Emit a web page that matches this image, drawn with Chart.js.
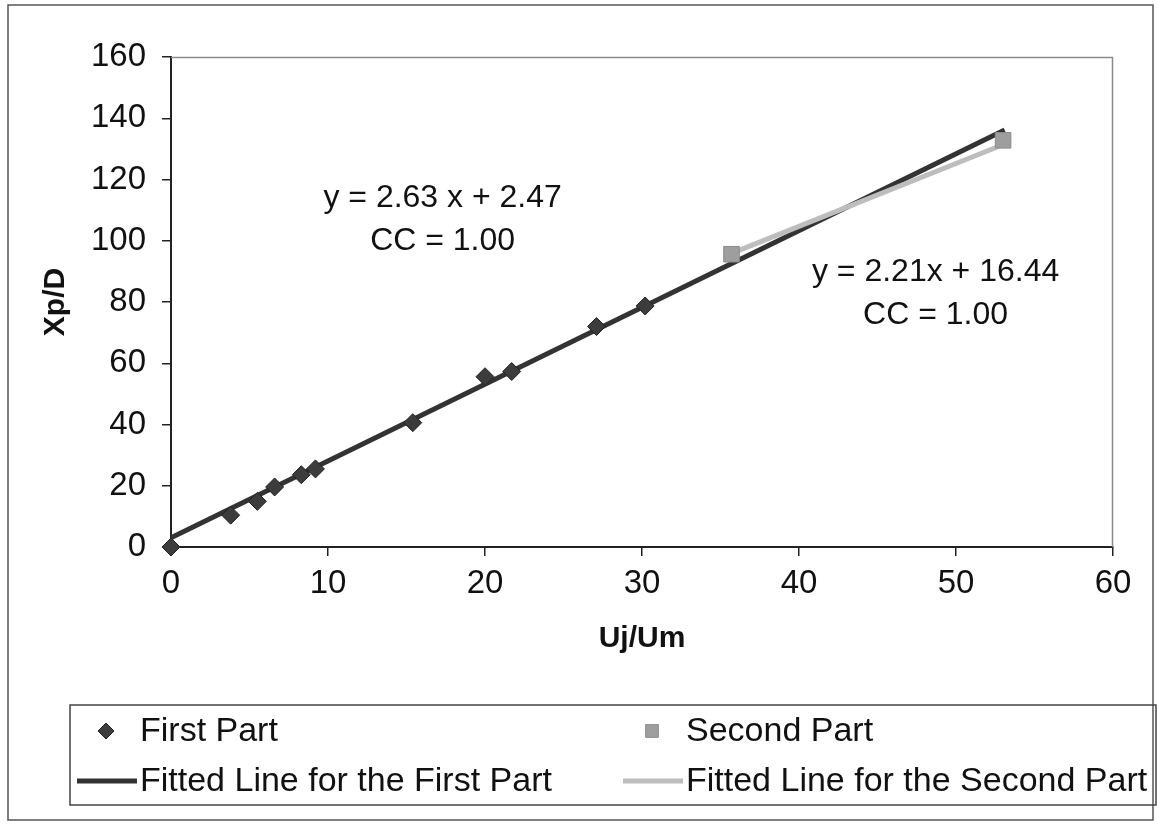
<!DOCTYPE html>
<html>
<head>
<meta charset="utf-8">
<script src="https://cdn.jsdelivr.net/npm/chart.js@4/dist/chart.umd.min.js"></script>
<style>
  html, body { margin: 0; padding: 0; background: #ffffff; }
  #wrap { width: 1157px; height: 826px; }
</style>
</head>
<body>
<div id="wrap"><canvas id="c" width="1157" height="826"></canvas></div>
<script>
// Measured points, first part of the trajectory
const firstX = [0, 3.8, 5.5, 6.6, 8.3, 9.2, 15.4, 20.0, 21.7, 27.1, 30.2];
const firstY = [0, 10.4, 14.9, 19.6, 23.6, 25.5, 40.6, 55.6, 57.3, 72.0, 78.7];

// Measured points, second part
const secondX = [35.7, 53.0];
const secondY = [95.6, 132.8];

// Fitted straight lines (end points)
const fit1X = [0, 53.1];
const fit1Y = [3.0, 136.2];
const fit2X = [35.7, 53.1];
const fit2Y = [95.9, 131.6];

const seriesNames = [
  'First Part',
  'Second Part',
  'Fitted Line for the First Part',
  'Fitted Line for the Second Part'
];

const equationText = [
  ['y = 2.63 x + 2.47', 'CC = 1.00'],
  ['y = 2.21x + 16.44', 'CC = 1.00']
];

const xTicks = [0, 10, 20, 30, 40, 50, 60];
const yTicks = [0, 20, 40, 60, 80, 100, 120, 140, 160];

const xTitle = 'Uj/Um';
const yTitle = 'Xp/D';

const FONT = "'Liberation Sans', Arial, sans-serif";

const pairs = (xs, ys) => xs.map((x, i) => ({ x: x, y: ys[i] }));

// Where each equation block sits, in axis units (centre of its first line)
const equationAnchors = [
  { x: 17.3, y: 113.8 },
  { x: 48.7, y: 89.7 }
];

const framePlugin = {
  id: 'frame',
  afterDatasetsDraw(chart) {
    const ctx = chart.ctx;
    const a = chart.chartArea;
    const xs = chart.scales.x, ys = chart.scales.y;
    ctx.save();

    // plot area outline (top and right edges)
    ctx.strokeStyle = '#8a8a8a';
    ctx.lineWidth = 1.5;
    ctx.beginPath();
    ctx.moveTo(a.left, a.top + 0.5);
    ctx.lineTo(a.right - 0.5, a.top + 0.5);
    ctx.lineTo(a.right - 0.5, a.bottom);
    ctx.stroke();

    // regression equations
    ctx.fillStyle = '#111';
    ctx.font = '32px ' + FONT;
    ctx.textAlign = 'center';
    ctx.textBaseline = 'middle';
    equationText.forEach((lines, k) => {
      const px = xs.getPixelForValue(equationAnchors[k].x);
      const py = ys.getPixelForValue(equationAnchors[k].y);
      lines.forEach((t, j) => ctx.fillText(t, px, py + j * 43));
    });
    ctx.restore();
  },
  afterDraw(chart) {
    const ctx = chart.ctx;
    ctx.save();

    // outer chart border
    ctx.strokeStyle = '#555';
    ctx.lineWidth = 1.5;
    ctx.strokeRect(8, 5, 1145, 815);

    // legend box
    const box = { l: 70, t: 705, r: 1156, b: 805 };
    ctx.strokeStyle = '#444';
    ctx.lineWidth = 1.5;
    ctx.strokeRect(box.l, box.t, box.r - box.l, box.b - box.t);

    const cols = [{ sym: 106, text: 140 }, { sym: 652, text: 686 }];
    const rows = [731, 781];
    const slots = [[0, 0], [1, 0], [0, 1], [1, 1]];
    ctx.font = '34px ' + FONT;
    ctx.textAlign = 'left';
    ctx.textBaseline = 'middle';
    chart.data.datasets.forEach((ds, i) => {
      const c = cols[slots[i][0]], y = rows[slots[i][1]];
      if (ds.showLine) {
        ctx.strokeStyle = ds.borderColor;
        ctx.lineWidth = ds.borderWidth;
        ctx.beginPath();
        ctx.moveTo(c.sym - 29, y);
        ctx.lineTo(c.sym + 31, y);
        ctx.stroke();
      } else {
        ctx.fillStyle = ds.pointBackgroundColor;
        ctx.strokeStyle = ds.pointBorderColor;
        ctx.lineWidth = 1;
        Chart.helpers.drawPoint(ctx, {
          pointStyle: ds.pointStyle,
          radius: ds.legendRadius,
          borderWidth: 1,
          rotation: 0
        }, c.sym, y);
      }
      ctx.fillStyle = '#111';
      ctx.fillText(ds.label, c.text, y + 1);
    });
    ctx.restore();
  }
};

new Chart(document.getElementById('c'), {
  type: 'scatter',
  data: {
    datasets: [
      {
        label: seriesNames[0],
        data: pairs(firstX, firstY),
        pointStyle: 'rectRot',
        pointRadius: 9,
        legendRadius: 8,
        pointBackgroundColor: '#3c3c3c',
        pointBorderColor: '#222',
        pointBorderWidth: 1,
        showLine: false,
        clip: false,
        order: 0
      },
      {
        label: seriesNames[1],
        data: pairs(secondX, secondY),
        pointStyle: 'rect',
        pointRadius: 11,
        legendRadius: 9,
        pointBackgroundColor: '#9e9e9e',
        pointBorderColor: '#8c8c8c',
        pointBorderWidth: 1,
        showLine: false,
        clip: false,
        order: 1
      },
      {
        label: seriesNames[2],
        data: pairs(fit1X, fit1Y),
        showLine: true,
        borderColor: '#333333',
        borderWidth: 5,
        pointRadius: 0,
        order: 3
      },
      {
        label: seriesNames[3],
        data: pairs(fit2X, fit2Y),
        showLine: true,
        borderColor: '#bdbdbd',
        borderWidth: 5,
        pointRadius: 0,
        order: 2
      }
    ]
  },
  options: {
    responsive: false,
    animation: false,
    devicePixelRatio: 1,
    layout: { padding: { left: 0, top: 57, right: 44, bottom: 169 } },
    plugins: {
      legend: { display: false },
      tooltip: { enabled: false }
    },
    scales: {
      x: {
        type: 'linear',
        min: 0,
        max: 60,
        afterBuildTicks: s => { s.ticks = xTicks.map(v => ({ value: v })); },
        afterFit: s => { s.height = 110; },
        grid: { drawOnChartArea: false, drawTicks: true, tickLength: 9, color: '#222', lineWidth: 1.5 },
        border: { display: true, color: '#222', width: 2 },
        ticks: { color: '#111', font: { family: FONT, size: 33 }, padding: 8, maxRotation: 0 },
        title: { display: true, text: xTitle, color: '#111', font: { family: FONT, size: 30, weight: 'bold' }, padding: { top: 6, bottom: 0 } }
      },
      y: {
        type: 'linear',
        min: 0,
        max: 160,
        afterBuildTicks: s => { s.ticks = yTicks.map(v => ({ value: v })); },
        afterFit: s => { s.width = 171; },
        grid: { drawOnChartArea: false, drawTicks: true, tickLength: 9, color: '#222', lineWidth: 1.5 },
        border: { display: true, color: '#222', width: 2 },
        ticks: { color: '#111', font: { family: FONT, size: 33 }, padding: 16 },
        title: { display: true, text: yTitle, color: '#111', font: { family: FONT, size: 30, weight: 'bold' }, padding: { top: 38, bottom: 0 } }
      }
    }
  },
  plugins: [framePlugin]
});
</script>
</body>
</html>
